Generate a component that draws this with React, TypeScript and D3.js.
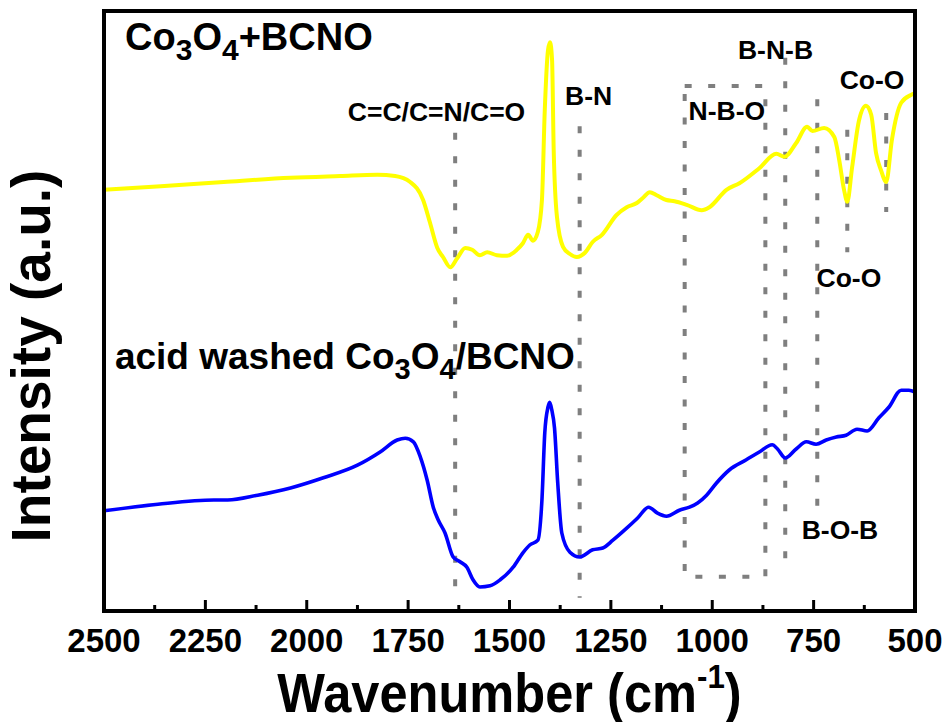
import React from "react";
import * as d3 from "d3";

// Co3O4+BCNO spectrum: [wavenumber (cm-1), intensity (a.u.)]
const co3o4BcnoSeries: [number, number][] = [
  [2500, 69.2], [2360, 69.8], [2205, 70.5], [2040, 71.2], [1917, 71.5], [1826, 71.7],
  [1782, 71.5], [1745, 70.5], [1713, 67.5], [1696, 63.7], [1678, 59.5], [1664, 58.0],
  [1646, 56.3], [1629, 57.8], [1609, 59.5], [1592, 59.2], [1573, 58.3], [1555, 58.8],
  [1531, 58.3], [1506, 58.2], [1482, 59.2], [1467, 60.3], [1454, 61.7], [1442, 60.7],
  [1430, 62.2], [1420, 67.5], [1413, 82.5], [1405, 92.5], [1400, 93.8], [1395, 90.8],
  [1391, 75.8], [1383, 64.7], [1368, 59.7], [1351, 58.5], [1334, 58.0], [1314, 58.7],
  [1295, 60.5], [1272, 61.7], [1236, 65.0], [1211, 66.3], [1186, 67.0], [1172, 67.8],
  [1154, 68.8], [1137, 68.3], [1113, 67.5], [1093, 67.3], [1063, 66.7], [1026, 65.8],
  [1007, 66.3], [965, 69.2], [933, 70.3], [884, 72.8], [842, 75.2], [822, 74.7],
  [793, 77.0], [766, 79.7], [753, 79.0], [724, 79.5], [699, 78.0], [687, 74.2],
  [675, 69.2], [667, 67.2], [655, 73.0], [638, 80.8], [621, 83.2], [608, 81.7],
  [596, 75.3], [584, 72.5], [571, 70.5], [557, 77.5], [534, 83.7], [510, 85.0], [500, 85.3],
];

// acid washed Co3O4/BCNO spectrum
const acidWashedSeries: [number, number][] = [
  [2500, 15.7], [2367, 16.8], [2229, 17.5], [2195, 17.5], [2121, 18.3], [2040, 19.5],
  [1959, 21.2], [1875, 23.3], [1819, 25.5], [1777, 27.5], [1757, 27.8], [1737, 27.2],
  [1720, 24.7], [1703, 20.8], [1688, 16.3], [1676, 14.2], [1659, 12.0], [1639, 8.0],
  [1622, 7.2], [1605, 6.3], [1590, 4.2], [1573, 3.0], [1548, 3.2], [1523, 4.2],
  [1491, 6.3], [1467, 8.7], [1450, 10.0], [1430, 10.8], [1420, 17.5], [1413, 28.7],
  [1405, 33.0], [1401, 33.8], [1396, 32.6], [1389, 29.5], [1381, 20.3], [1371, 12.0],
  [1351, 8.8], [1327, 8.0], [1295, 9.2], [1270, 9.5], [1245, 10.8], [1211, 12.8],
  [1184, 14.5], [1157, 16.3], [1135, 15.3], [1113, 14.8], [1081, 15.8], [1056, 16.3],
  [1036, 17.0], [1014, 18.3], [990, 20.3], [958, 22.5], [916, 24.2], [884, 25.5],
  [852, 26.7], [839, 26.0], [820, 24.5], [793, 26.0], [768, 27.2], [744, 26.8],
  [719, 27.5], [694, 28.0], [670, 28.3], [643, 29.3], [618, 29.0], [589, 31.2],
  [564, 33.0], [534, 35.8], [515, 35.8], [500, 35.5],
];

const xTickValues = [2500, 2250, 2000, 1750, 1500, 1250, 1000, 750, 500];
const xMinorTickValues = [2375, 2125, 1875, 1625, 1375, 1125, 875, 625];

// dotted band markers: wavenumber, top and bottom intensity
const bandWavenumbers = [1634, 1327, 820, 741, 667, 571];
const bandTops = [78.7, 79.8, 91.2, 84.3, 79.2, 82.0];
const bandBottoms = [0.8, 1.2, 6.2, 15.5, 58.8, 65.5];

// dotted box (N-B-O region)
const boxRange = [1068, 869];
const boxIntensity = [86.5, 4.7];

// band labels
const bandLabels = ["C=C/C=N/C=O", "B-N", "N-B-O", "B-N-B", "Co-O", "Co-O", "B-O-B"];
const bandLabelWavenumbers = [1680, 1305, 964, 844, 606, 663, 685];
const bandLabelIntensities = [80.7, 83.3, 80.8, 91.0, 86.0, 53.0, 11.0];

const W = 950;
const H = 722;
const left = 104;
const right = 915;
const top = 11;
const bottom = 611;

const FONT = "Arial, 'Liberation Sans', Helvetica, sans-serif";

export default function App() {
  const x = d3.scaleLinear().domain([2500, 500]).range([left, right]);
  const y = d3.scaleLinear().domain([-1, 99]).range([bottom, top]);

  const line = d3
    .line<[number, number]>()
    .x((d) => x(d[0]))
    .y((d) => y(d[1]))
    .curve(d3.curveMonotoneX);

  const grey = "#7f7f7f";
  const dash = "7 16.5";

  return (
    <svg
      width={W}
      height={H}
      viewBox={`0 0 ${W} ${H}`}
      style={{ position: "absolute", left: 0, top: 0, background: "#fff" }}
    >
      <rect x={0} y={0} width={W} height={H} fill="#fff" />

      {/* dotted band lines */}
      {bandWavenumbers.map((wn, i) => (
        <line
          key={"b" + i}
          x1={x(wn)}
          x2={x(wn)}
          y1={y(bandTops[i])}
          y2={y(bandBottoms[i])}
          stroke={grey}
          strokeWidth={4}
          strokeDasharray={dash}
        />
      ))}
      <rect
        x={x(boxRange[0])}
        y={y(boxIntensity[0])}
        width={x(boxRange[1]) - x(boxRange[0])}
        height={y(boxIntensity[1]) - y(boxIntensity[0])}
        fill="none"
        stroke={grey}
        strokeWidth={4}
        strokeDasharray={dash}
      />

      {/* spectra */}
      <path d={line(co3o4BcnoSeries) || ""} fill="none" stroke="#ffff00" strokeWidth={4} strokeLinejoin="round" />
      <path d={line(acidWashedSeries) || ""} fill="none" stroke="#0000ff" strokeWidth={3.6} strokeLinejoin="round" />

      {/* band labels */}
      {bandLabels.map((t, i) => (
        <text
          key={"l" + i}
          x={x(bandLabelWavenumbers[i])}
          y={y(bandLabelIntensities[i])}
          textAnchor="middle"
          fontFamily={FONT}
          fontWeight="bold"
          fontSize={26.5}
          fill="#000"
        >
          {t}
        </text>
      ))}

      {/* sample labels */}
      <text x={x(2448)} y={y(92.5)} fontFamily={FONT} fontWeight="bold" fontSize={38} fill="#000">
        Co
        <tspan fontSize={30} dy={10}>3</tspan>
        <tspan dy={-10}>O</tspan>
        <tspan fontSize={30} dy={10}>4</tspan>
        <tspan dy={-10}>+BCNO</tspan>
      </text>
      <text x={x(2473)} y={y(39.3)} fontFamily={FONT} fontWeight="bold" fontSize={37} fill="#000">
        acid washed Co
        <tspan fontSize={29} dy={10}>3</tspan>
        <tspan dy={-10}>O</tspan>
        <tspan fontSize={29} dy={10}>4</tspan>
        <tspan dy={-10}>/BCNO</tspan>
      </text>

      {/* frame */}
      <rect
        x={left}
        y={top}
        width={right - left}
        height={bottom - top}
        fill="none"
        stroke="#000"
        strokeWidth={4}
      />

      {/* ticks */}
      {xTickValues.map((v) => (
        <line key={"t" + v} x1={x(v)} x2={x(v)} y1={bottom} y2={bottom - 11} stroke="#000" strokeWidth={3} />
      ))}
      {xMinorTickValues.map((v) => (
        <line key={"m" + v} x1={x(v)} x2={x(v)} y1={bottom} y2={bottom - 6} stroke="#000" strokeWidth={3} />
      ))}
      {xTickValues.map((v) => (
        <text
          key={"tl" + v}
          x={x(v)}
          y={652}
          textAnchor="middle"
          fontFamily={FONT}
          fontWeight="bold"
          fontSize={33}
          fill="#000"
        >
          {v}
        </text>
      ))}

      {/* x axis title */}
      <g transform={`translate(${(left + right) / 2},712) scale(0.92,1)`}>
        <text x={0} y={0} textAnchor="middle" fontFamily={FONT} fontWeight="bold" fontSize={55} fill="#000">
          Wavenumber (cm
          <tspan fontSize={34} dy={-24}>-1</tspan>
          <tspan dy={24}>)</tspan>
        </text>
      </g>

      {/* y axis title */}
      <text
        transform={`translate(50,${(top + bottom) / 2 + 45}) rotate(-90)`}
        textAnchor="middle"
        fontFamily={FONT}
        fontWeight="bold"
        fontSize={55}
        fill="#000"
      >
        Intensity (a.u.)
      </text>
    </svg>
  );
}
